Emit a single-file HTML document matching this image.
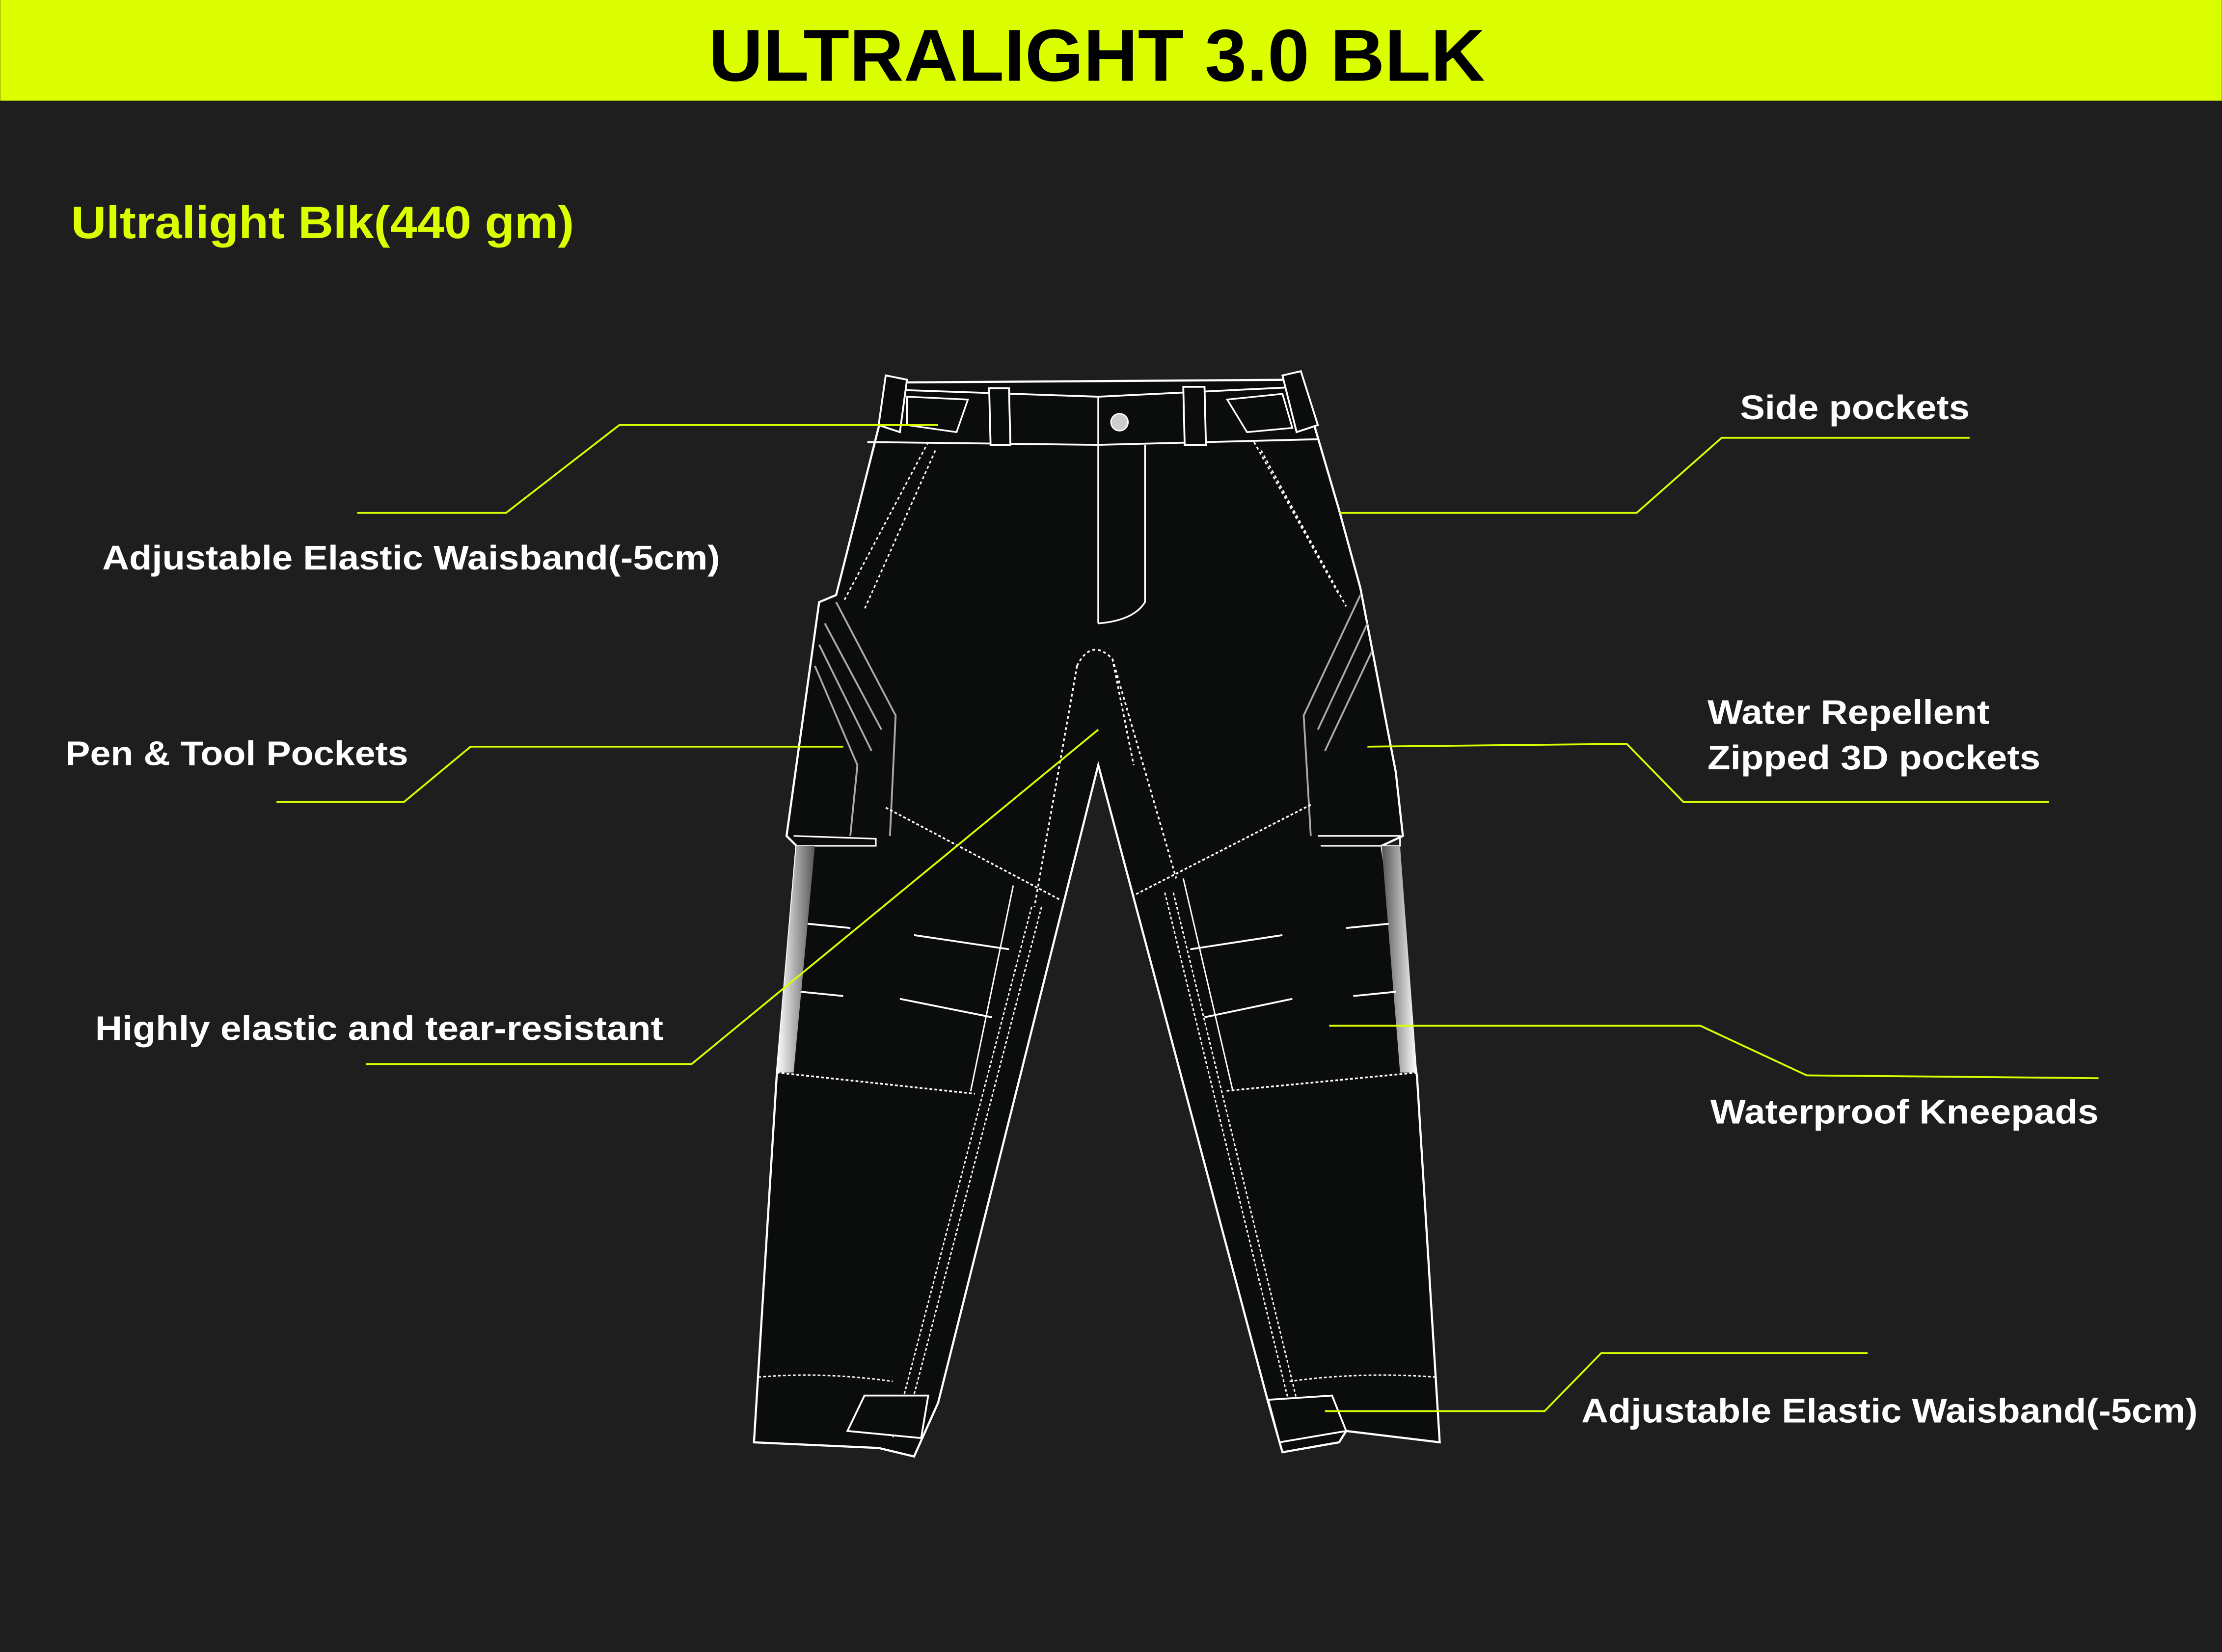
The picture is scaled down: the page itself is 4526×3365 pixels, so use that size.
<!DOCTYPE html>
<html><head><meta charset="utf-8"><style>
html,body{margin:0;padding:0;background:#1e1e1e;}
svg{display:block}
text{font-family:"Liberation Sans",sans-serif;}
</style></head><body>
<svg width="4526" height="3365" viewBox="0 0 1568 1166" xmlns="http://www.w3.org/2000/svg">
<defs>
<linearGradient id="gl" x1="0" x2="1" y1="0" y2="0"><stop offset="0" stop-color="#ffffff"/><stop offset="1" stop-color="#555"/></linearGradient>
<linearGradient id="gr" x1="0" x2="1" y1="0" y2="0"><stop offset="0" stop-color="#555"/><stop offset="1" stop-color="#ffffff"/></linearGradient>
</defs>
<rect width="1568" height="1166" fill="#1e1e1e"/>
<rect width="1568" height="71" fill="#dcff00"/>
<text x="500" y="57" textLength="548" lengthAdjust="spacingAndGlyphs" font-size="52" font-weight="bold" fill="#000">ULTRALIGHT 3.0 BLK</text>
<text x="50" y="168" textLength="355" lengthAdjust="spacingAndGlyphs" font-size="32" font-weight="bold" fill="#dcff00">Ultralight Blk(440 gm)</text>

<path d="M628,270 L918,268 L945,360 L960,415 L985,545 L990,590 L975,597 L1000,760 L1016,1018 L950,1010 L945,1018 L905,1025 L895,990 L775,540 L662,990 L645,1028 L620,1022 L532,1018 L548,760 L562,597 L555,590 L578,425 L590,420 Z" fill="#0b0c0c" stroke="#fff" stroke-width="1.5"/>
<path d="M628,275 L775,280 L918,273 M612,312 L775,314 L930,310" fill="none" stroke="#fff" stroke-width="1.3"/>
<path d="M620,300 L625,265 L640,268 L635,305 Z M905,265 L918,262 L930,300 L915,305 Z" fill="#0b0c0c" stroke="#fff" stroke-width="1.3"/>
<path d="M698,274 L712,274 L713,314 L699,314 Z M835,273 L850,273 L851,314 L836,314 Z" fill="#0b0c0c" stroke="#fff" stroke-width="1.3"/>
<path d="M640,280 L683,282 L675,305 L640,300 Z M866,282 L905,278 L912,302 L880,305 Z" fill="none" stroke="#fff" stroke-width="1.2"/>
<circle cx="790" cy="298" r="6" fill="#ccc" stroke="#fff"/>
<path d="M775,280 L775,440 M808,314 L808,425 Q800,438 775,440" fill="none" stroke="#fff" stroke-width="1.2"/>
<path d="M760,470 Q770,450 785,465 L800,540 M760,470 L730,640 M785,465 L830,620" fill="none" stroke="#fff" stroke-width="1.2" stroke-dasharray="2,2"/>
<path d="M655,312 L595,425 M660,318 L610,430 M885,312 L945,420 M890,318 L950,428" fill="none" stroke="#fff" stroke-width="1.1" stroke-dasharray="2,2"/>
<path d="M590,425 L632,505 L628,590 M582,440 L622,515 M578,455 L615,530 M575,470 L605,540 L600,590" fill="none" stroke="#aaa" stroke-width="1.3"/>
<path d="M560,590 L618,592 L618,597 L562,597" fill="none" stroke="#fff" stroke-width="1.1"/>
<path d="M960,420 L920,505 L925,590 M965,440 L930,515 M968,460 L935,530" fill="none" stroke="#aaa" stroke-width="1.3"/>
<path d="M930,590 L988,590 L988,597 L932,597" fill="none" stroke="#fff" stroke-width="1.1"/>
<path d="M562,597 L575,597 L560,757 L548,757 Z" fill="url(#gl)"/>
<path d="M975,597 L988,597 L1000,757 L988,757 Z" fill="url(#gr)"/>
<path d="M625,570 L748,635 M925,568 L800,632 M548,757 L688,772 M1000,757 L865,770" fill="none" stroke="#fff" stroke-width="1.2" stroke-dasharray="2,1.5"/>
<path d="M570,652 L600,655 M645,660 L712,670 M565,700 L595,703 M635,705 L700,718 M980,652 L950,655 M905,660 L840,670 M985,700 L955,703 M912,705 L850,718" fill="none" stroke="#fff" stroke-width="1.3"/>
<path d="M715,625 L685,770 M835,620 L870,770" fill="none" stroke="#fff" stroke-width="1"/>
<path d="M728,640 L630,1015 M735,640 L637,1015 M822,630 L912,1000 M828,630 L918,1000" fill="none" stroke="#fff" stroke-width="1" stroke-dasharray="2,1.5"/>
<path d="M535,972 Q580,968 630,975 M910,975 Q960,968 1014,972" fill="none" stroke="#fff" stroke-width="1" stroke-dasharray="2,1.5"/>
<path d="M610,985 L655,985 L650,1015 L598,1010 Z M895,988 L940,985 L950,1010 L903,1018 Z" fill="#0b0c0c" stroke="#fff" stroke-width="1.3"/>

<g fill="none" stroke="#dcff00" stroke-width="1.3">
<polyline points="252,362 357,362 437,300 662,300"/>
<polyline points="1390,309 1215,309 1155,362 945,362"/>
<polyline points="195,566 285,566 332,527 595,527"/>
<polyline points="965,527 1148,525 1188,566 1446,566"/>
<polyline points="258,751 488,751 775,515"/>
<polyline points="938,724 1200,724 1275,759 1481,761"/>
<polyline points="935,996 1090,996 1130,955 1318,955"/>
</g>
<g fill="#fff" font-size="24" font-weight="bold">
<text x="72" y="402" textLength="436" lengthAdjust="spacingAndGlyphs">Adjustable Elastic Waisband(-5cm)</text>
<text x="1228" y="296" textLength="162" lengthAdjust="spacingAndGlyphs">Side pockets</text>
<text x="46" y="540" textLength="242" lengthAdjust="spacingAndGlyphs">Pen &amp; Tool Pockets</text>
<text x="1205" y="511" textLength="199" lengthAdjust="spacingAndGlyphs">Water Repellent</text>
<text x="1205" y="543" textLength="235" lengthAdjust="spacingAndGlyphs">Zipped 3D pockets</text>
<text x="67" y="734" textLength="401" lengthAdjust="spacingAndGlyphs">Highly elastic and tear-resistant</text>
<text x="1207" y="793" textLength="274" lengthAdjust="spacingAndGlyphs">Waterproof Kneepads</text>
<text x="1116" y="1004" textLength="435" lengthAdjust="spacingAndGlyphs">Adjustable Elastic Waisband(-5cm)</text>
</g>
</svg>
</body></html>
